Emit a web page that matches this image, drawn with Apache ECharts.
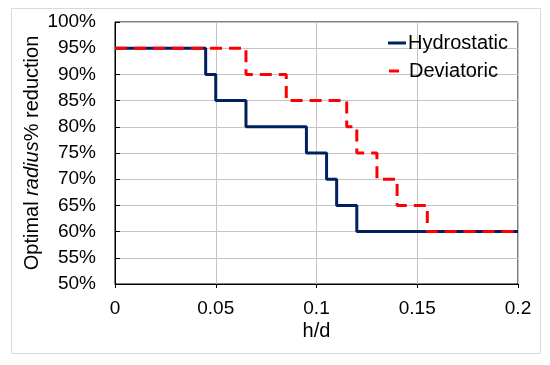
<!DOCTYPE html>
<html>
<head>
<meta charset="utf-8">
<script src="https://cdn.jsdelivr.net/npm/echarts@6/dist/echarts.min.js"></script>
<style>html,body{margin:0;padding:0;background:#fff;}#c{width:550px;height:365px;}</style>
</head>
<body>
<div id="c"></div>
<script>
// Data
var hydroX = [0, 0.045, 0.05, 0.065, 0.095, 0.105, 0.11, 0.12, 0.2];
var hydroY = [95, 90, 85, 80, 75, 70, 65, 60, 60];
var devX = [0, 0.065, 0.085, 0.115, 0.12, 0.13, 0.14, 0.155, 0.2];
var devY = [95, 90, 85, 80, 75, 70, 65, 60, 60];
var seriesNames = ['Hydrostatic', 'Deviatoric'];
var xTicks = [0, 0.05, 0.1, 0.15, 0.2];
var yTicks = [50, 55, 60, 65, 70, 75, 80, 85, 90, 95, 100];

function pairs(xs, ys) { return xs.map(function (x, i) { return [x, ys[i]]; }); }

var FONT = 'Liberation Sans, Arial, sans-serif';
var FS = 19;
var FL = 20;
var chart = echarts.init(document.getElementById('c'), null, {renderer: 'canvas'});
chart.setOption({
  animation: false,
  backgroundColor: '#fff',
  textStyle: {fontFamily: FONT},
  graphic: [{
    type: 'rect', z: -10,
    shape: {x: 11.5, y: 8.5, width: 529, height: 345},
    style: {fill: '#fff', stroke: '#d9d9d9', lineWidth: 1}
  }],
  grid: {left: 115, top: 22, right: 32, bottom: 81, show: true, borderColor: '#000', borderWidth: 1, backgroundColor: 'transparent'},
  legend: [{
    orient: 'vertical', left: 388, top: 33, icon: 'rect', padding: 0,
    itemWidth: 18, itemHeight: 3,
    itemStyle: {color: '#002060'},
    textStyle: {fontSize: FL, color: '#000', fontFamily: FONT, lineHeight: 20, padding: [0, 0, 0, -3]},
    data: [seriesNames[0]]
  }, {
    orient: 'vertical', left: 389, top: 61, icon: 'rect', padding: 0,
    itemWidth: 10, itemHeight: 3,
    itemStyle: {color: '#ff0000'},
    textStyle: {fontSize: FL, color: '#000', fontFamily: FONT, lineHeight: 20, padding: [0, 0, 0, 5]},
    data: [seriesNames[1]]
  }],
  xAxis: {
    type: 'value', min: xTicks[0], max: xTicks[xTicks.length - 1], interval: 0.05,
    name: 'h/d', nameLocation: 'middle', nameGap: 37, nameMoveOverlap: false,
    nameTextStyle: {fontSize: FL, color: '#000', fontFamily: FONT},
    axisLine: {show: true, lineStyle: {color: '#000', width: 1}},
    axisTick: {show: true, inside: false, length: 4, lineStyle: {color: '#000'}},
    axisLabel: {fontSize: FS, color: '#000', margin: 15, fontFamily: FONT,
      formatter: function (v) { return String(+v.toFixed(2)); }},
    splitLine: {show: true, lineStyle: {color: '#c4c4c4', width: 1}}
  },
  yAxis: {
    type: 'value', min: yTicks[0], max: yTicks[yTicks.length - 1], interval: 5,
    name: '{a|Optimal }{b|radius}{a|% reduction}', nameLocation: 'middle', nameGap: 73, nameRotate: 90,
    nameMoveOverlap: false,
    nameTextStyle: {fontSize: FL, color: '#000', fontFamily: FONT,
      rich: {a: {fontSize: FL, color: '#000', fontFamily: FONT}, b: {fontSize: FL, color: '#000', fontStyle: 'italic', fontFamily: FONT}}},
    axisLine: {show: true, lineStyle: {color: '#000', width: 1}},
    axisTick: {show: true, inside: true, length: 5, lineStyle: {color: '#000'}},
    axisLabel: {fontSize: FS, color: '#000', margin: 19, fontFamily: FONT,
      formatter: function (v) { return v + '%'; }},
    splitLine: {show: true, lineStyle: {color: '#c4c4c4', width: 1}}
  },
  series: [{
    name: seriesNames[0], type: 'line', step: 'end', symbol: 'none',
    data: pairs(hydroX, hydroY),
    lineStyle: {color: '#002060', width: 3}, itemStyle: {color: '#002060'}
  }, {
    name: seriesNames[1], type: 'line', step: 'end', symbol: 'none',
    data: pairs(devX, devY),
    lineStyle: {color: '#ff0000', width: 3, type: [12, 7]}, itemStyle: {color: '#ff0000'}
  }]
});
</script>
</body>
</html>
